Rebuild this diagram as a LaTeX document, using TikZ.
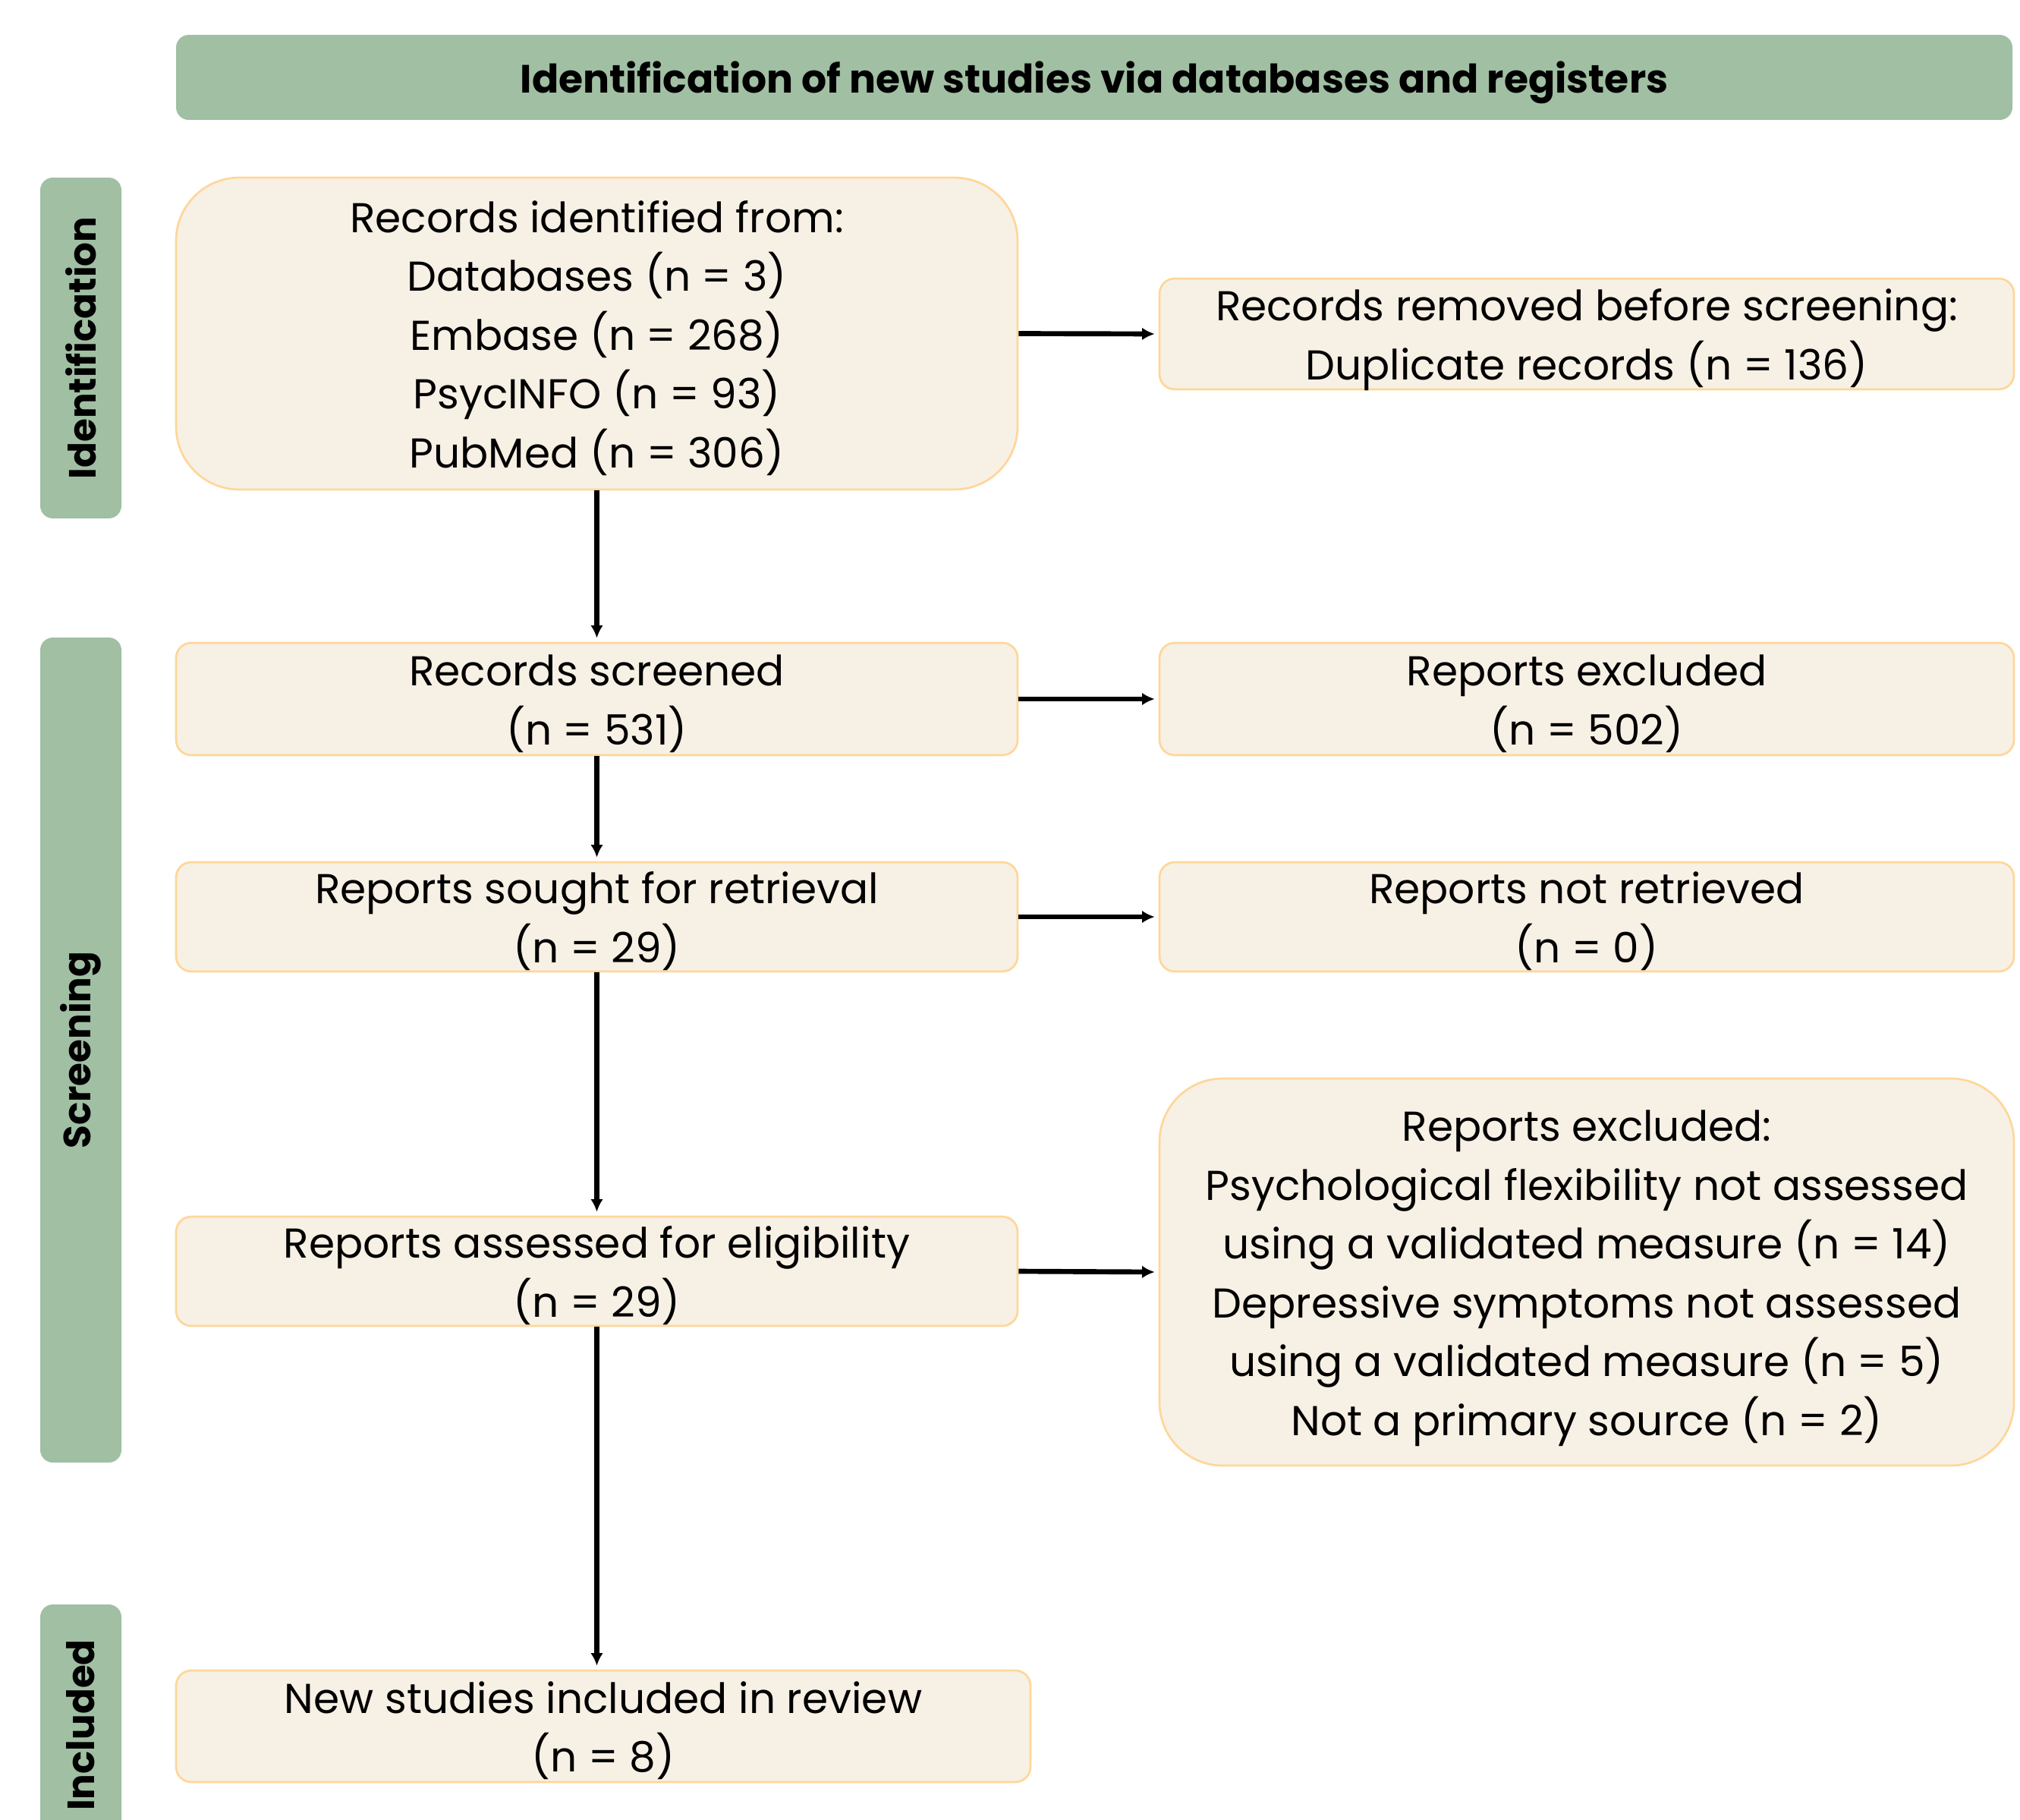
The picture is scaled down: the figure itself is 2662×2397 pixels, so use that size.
\documentclass[tikz,border=0pt]{standalone}
\usepackage{fontspec}
\setmainfont{Poppins}
\usetikzlibrary{arrows.meta}
\definecolor{hdr}{RGB}{161,191,163}
\definecolor{boxfill}{RGB}{247,240,228}
\definecolor{boxline}{RGB}{255,214,153}
\newcommand{\btext}[1]{\raisebox{-1.8pt}[\dimexpr\height-3pt\relax][\dimexpr\depth-3pt\relax]{\begin{tabular}{@{}c@{}}#1\end{tabular}}}
\begin{document}
\begin{tikzpicture}[x=0.3pt,y=-0.3pt,
  stagebox/.style={rounded corners=6pt, fill=boxfill, draw=boxline, line width=0.8pt,
    inner sep=0pt, font=\fontsize{16.5}{23.25}\selectfont},
  bigbox/.style={stagebox, rounded corners=25pt},
  phase/.style={fill=hdr, rounded corners=5pt, rotate=90, inner sep=0pt,
    font=\fontsize{15}{18}\selectfont\bfseries},
  topbar/.style={fill=hdr, rounded corners=5pt, inner sep=0pt,
    font=\fontsize{15.6}{20}\selectfont\bfseries},
  flow/.style={line width=2pt, -{Latex[length=5pt,width=5pt]}, shorten >=1.5pt}
]
\useasboundingbox (0,0) rectangle (2662,2397);

\node[topbar, minimum width=726pt, minimum height=33.6pt] (hdr) at (1442,102)
  {\raisebox{-2pt}[\height][\depth]{Identification of new studies via databases and registers}};

\node[phase, minimum width=134.7pt, minimum height=32.1pt] (pid) at (106.5,458.5) {Identification};
\node[phase, minimum width=326.1pt, minimum height=32.1pt] (pscr) at (106.5,1383.5) {Screening};
\node[phase, minimum width=95.4pt, minimum height=32.1pt] (pinc) at (106.5,2273) {Included};

\node[bigbox, minimum width=332.7pt, minimum height=123.3pt] (ident) at (786.5,439.5)
  {\btext{Records identified from:\\Databases (n = 3)\\Embase (n = 268)\\PsycINFO (n = 93)\\PubMed (n = 306)}};
\node[stagebox, minimum width=337.8pt, minimum height=43.8pt] (removed) at (2091,440)
  {\btext{Records removed before screening:\\Duplicate records (n = 136)}};

\node[stagebox, minimum width=332.7pt, minimum height=44.4pt] (screened) at (786.5,921)
  {\btext{Records screened\\(n = 531)}};
\node[stagebox, minimum width=337.8pt, minimum height=44.4pt] (excl1) at (2091,921)
  {\btext{Reports excluded\\(n = 502)}};

\node[stagebox, minimum width=332.7pt, minimum height=43.2pt] (sought) at (786.5,1208)
  {\btext{Reports sought for retrieval\\(n = 29)}};
\node[stagebox, minimum width=337.8pt, minimum height=43.2pt] (notret) at (2091,1208)
  {\btext{Reports not retrieved\\(n = 0)}};

\node[stagebox, minimum width=332.7pt, minimum height=43.2pt] (assessed) at (786.5,1675)
  {\btext{Reports assessed for eligibility\\(n = 29)}};
\node[bigbox, minimum width=337.8pt, minimum height=153pt] (excl2) at (2091,1676)
  {\btext{Reports excluded:\\Psychological flexibility not assessed\\using a validated measure (n = 14)\\Depressive symptoms not assessed\\using a validated measure (n = 5)\\Not a primary source (n = 2)}};

\node[stagebox, minimum width=337.8pt, minimum height=44.1pt] (included) at (795,2274.5)
  {\btext{New studies included in review\\(n = 8)}};

\draw[flow] (ident.east) -- (removed.west);
\draw[flow] (ident.south) -- (screened.north);
\draw[flow] (screened.east) -- (excl1.west);
\draw[flow] (screened.south) -- (sought.north);
\draw[flow] (sought.east) -- (notret.west);
\draw[flow] (sought.south) -- (assessed.north);
\draw[flow] (assessed.east) -- (excl2.west);
\draw[flow] (assessed.south) -- (assessed.south |- included.north);
\end{tikzpicture}
\end{document}
